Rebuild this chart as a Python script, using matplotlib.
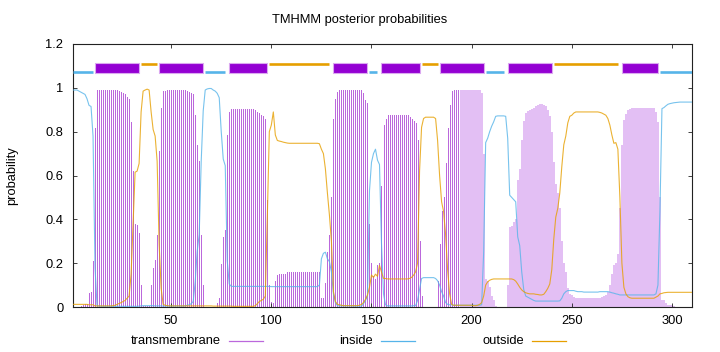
import numpy as np
import matplotlib
matplotlib.use("Agg")
import matplotlib.pyplot as plt
from matplotlib.patches import Rectangle
from matplotlib.lines import Line2D

plt.rcParams["font.family"] = ["Liberation Sans", "DejaVu Sans"]
plt.rcParams["font.size"] = 9.3

# posterior probabilities per residue (1..310)
tm = [
    0, 0, 0, 0, 0.005, 0.01, 0.015, 0.015, 0.065, 0.07,
    0.21, 0.815, 0.99, 0.99, 0.99, 0.99, 0.99, 0.99, 0.99, 0.99,
    0.99, 0.99, 0.99, 0.986, 0.98, 0.975, 0.97, 0.96, 0.95, 0.846,
    0.62, 0.38, 0.373, 0.336, 0.10, 0.005, 0.005, 0.005, 0.005, 0.10,
    0.18, 0.215, 0.33, 0.71, 0.91, 0.985, 0.987, 0.99, 0.99, 0.99,
    0.99, 0.99, 0.99, 0.99, 0.99, 0.99, 0.988, 0.985, 0.982, 0.978,
    0.97, 0.877, 0.74, 0.667, 0.33, 0.1, 0, 0, 0, 0,
    0, 0, 0.02, 0.04, 0.195, 0.32, 0.35, 0.785, 0.89, 0.905,
    0.905, 0.905, 0.905, 0.905, 0.905, 0.905, 0.905, 0.905, 0.905, 0.905,
    0.905, 0.9, 0.89, 0.885, 0.877, 0.87, 0.858, 0.49, 0.1, 0.025,
    0.017, 0.12, 0.146, 0.149, 0.149, 0.15, 0.152, 0.16, 0.16, 0.161,
    0.161, 0.161, 0.161, 0.161, 0.161, 0.161, 0.161, 0.161, 0.161, 0.161,
    0.161, 0.161, 0.16, 0.158, 0.04, 0.04, 0.11, 0.25, 0.33, 0.5,
    0.86, 0.95, 0.983, 0.99, 0.99, 0.99, 0.99, 0.99, 0.99, 0.99,
    0.99, 0.99, 0.99, 0.99, 0.99, 0.976, 0.945, 0.93, 0.38, 0.2,
    0.14, 0.128, 0.19, 0.2, 0.55, 0.83, 0.858, 0.874, 0.877, 0.877,
    0.877, 0.877, 0.877, 0.877, 0.877, 0.877, 0.877, 0.877, 0.865, 0.86,
    0.85, 0.84, 0.76, 0.3, 0.05, 0, 0, 0, 0, 0,
    0, 0, 0.12, 0.286, 0.44, 0.5, 0.656, 0.816, 0.92, 0.986,
    0.99, 0.99, 0.99, 0.99, 0.99, 0.99, 0.99, 0.99, 0.99, 0.99,
    0.99, 0.99, 0.99, 0.988, 0.975, 0.7, 0.13, 0.12, 0.09, 0.05,
    0.03, 0.005, 0, 0, 0, 0, 0, 0.1, 0.367, 0.37,
    0.39, 0.4, 0.58, 0.63, 0.76, 0.85, 0.885, 0.895, 0.9, 0.905,
    0.91, 0.915, 0.92, 0.925, 0.925, 0.92, 0.915, 0.9, 0.87, 0.8,
    0.66, 0.56, 0.52, 0.45, 0.3, 0.2, 0.16, 0.085, 0.06, 0.055,
    0.045, 0.04, 0.04, 0.04, 0.04, 0.04, 0.04, 0.04, 0.04, 0.04,
    0.04, 0.04, 0.04, 0.04, 0.045, 0.05, 0.055, 0.07, 0.1, 0.15,
    0.19, 0.2, 0.24, 0.45, 0.74, 0.855, 0.88, 0.9, 0.905, 0.907,
    0.91, 0.91, 0.91, 0.91, 0.91, 0.91, 0.91, 0.91, 0.91, 0.91,
    0.91, 0.89, 0.846, 0.5, 0.03, 0.03, 0.017, 0.01, 0.009, 0.009,
    0.005, 0, 0, 0, 0, 0, 0, 0, 0, 0,
]

inside = [
    0.99, 0.99, 0.99, 0.985, 0.98, 0.975, 0.97, 0.95, 0.92, 0.915,
    0.78, 0.18, 0.005, 0.004, 0.003, 0.003, 0.003, 0.003, 0.003, 0.003,
    0.003, 0.003, 0.003, 0.003, 0.003, 0.003, 0.003, 0.003, 0.003, 0.003,
    0.003, 0.003, 0.003, 0.004, 0.005, 0.006, 0.006, 0.006, 0.006, 0.006,
    0.006, 0.005, 0.005, 0.005, 0.005, 0.004, 0.004, 0.004, 0.004, 0.004,
    0.004, 0.004, 0.004, 0.004, 0.004, 0.004, 0.005, 0.008, 0.01, 0.015,
    0.025, 0.115, 0.255, 0.33, 0.665, 0.895, 0.99, 0.995, 0.997, 0.997,
    0.99, 0.985, 0.975, 0.955, 0.8, 0.675, 0.645, 0.21, 0.105, 0.094,
    0.094, 0.094, 0.094, 0.094, 0.094, 0.094, 0.094, 0.094, 0.094, 0.094,
    0.094, 0.094, 0.094, 0.094, 0.094, 0.094, 0.094, 0.094, 0.094, 0.093,
    0.093, 0.093, 0.093, 0.093, 0.093, 0.093, 0.093, 0.093, 0.093, 0.093,
    0.093, 0.093, 0.093, 0.093, 0.093, 0.093, 0.093, 0.093, 0.093, 0.093,
    0.093, 0.093, 0.093, 0.1, 0.22, 0.245, 0.25, 0.22, 0.207, 0.16,
    0.06, 0.02, 0.006, 0.005, 0.005, 0.005, 0.005, 0.005, 0.005, 0.005,
    0.004, 0.004, 0.004, 0.004, 0.004, 0.015, 0.03, 0.05, 0.53, 0.66,
    0.7, 0.72, 0.67, 0.65, 0.29, 0.06, 0.01, 0.005, 0.005, 0.005,
    0.005, 0.005, 0.005, 0.005, 0.005, 0.005, 0.005, 0.005, 0.005, 0.005,
    0.006, 0.006, 0.03, 0.08, 0.13, 0.134, 0.134, 0.134, 0.134, 0.134,
    0.134, 0.13, 0.12, 0.1, 0.07, 0.05, 0.02, 0.012, 0.01, 0.01,
    0.008, 0.008, 0.008, 0.008, 0.008, 0.008, 0.008, 0.008, 0.008, 0.008,
    0.008, 0.008, 0.008, 0.008, 0.01, 0.25, 0.75, 0.77, 0.8, 0.825,
    0.845, 0.87, 0.872, 0.872, 0.872, 0.872, 0.87, 0.77, 0.51, 0.5,
    0.49, 0.48, 0.32, 0.28, 0.16, 0.08, 0.05, 0.045, 0.04, 0.035,
    0.03, 0.027, 0.027, 0.027, 0.027, 0.027, 0.027, 0.027, 0.027, 0.027,
    0.027, 0.027, 0.027, 0.028, 0.04, 0.06, 0.07, 0.075, 0.075, 0.075,
    0.075, 0.072, 0.07, 0.07, 0.07, 0.068, 0.068, 0.068, 0.068, 0.068,
    0.068, 0.068, 0.068, 0.07, 0.07, 0.07, 0.07, 0.07, 0.068, 0.065,
    0.063, 0.06, 0.058, 0.055, 0.055, 0.055, 0.055, 0.055, 0.055, 0.055,
    0.055, 0.055, 0.055, 0.055, 0.055, 0.055, 0.055, 0.055, 0.055, 0.055,
    0.055, 0.06, 0.1, 0.44, 0.905, 0.91, 0.918, 0.925, 0.928, 0.93,
    0.932, 0.933, 0.934, 0.935, 0.935, 0.935, 0.935, 0.935, 0.935, 0.935,
]

outside = [
    0.012, 0.012, 0.012, 0.012, 0.012, 0.012, 0.012, 0.012, 0.01, 0.01,
    0.01, 0.005, 0.005, 0.005, 0.005, 0.005, 0.005, 0.005, 0.005, 0.005,
    0.006, 0.008, 0.012, 0.016, 0.02, 0.025, 0.03, 0.04, 0.05, 0.15,
    0.38, 0.615, 0.62, 0.655, 0.89, 0.985, 0.99, 0.994, 0.99, 0.89,
    0.81, 0.78, 0.665, 0.285, 0.085, 0.012, 0.008, 0.006, 0.005, 0.005,
    0.005, 0.005, 0.005, 0.005, 0.005, 0.005, 0.005, 0.005, 0.005, 0.005,
    0.005, 0.005, 0.005, 0.005, 0.005, 0.005, 0.005, 0.005, 0.005, 0.005,
    0.004, 0.004, 0.004, 0.004, 0.004, 0.004, 0.004, 0.004, 0.004, 0.004,
    0.003, 0.003, 0.003, 0.003, 0.003, 0.003, 0.003, 0.003, 0.003, 0.003,
    0.003, 0.006, 0.015, 0.025, 0.03, 0.035, 0.05, 0.41, 0.8, 0.83,
    0.89, 0.785, 0.76, 0.757, 0.755, 0.752, 0.75, 0.748, 0.747, 0.747,
    0.747, 0.747, 0.747, 0.747, 0.747, 0.747, 0.747, 0.747, 0.747, 0.747,
    0.747, 0.747, 0.747, 0.745, 0.72, 0.7, 0.63, 0.52, 0.42, 0.3,
    0.07, 0.025, 0.012, 0.01, 0.008, 0.006, 0.006, 0.006, 0.006, 0.006,
    0.006, 0.006, 0.006, 0.008, 0.012, 0.02, 0.035, 0.055, 0.09, 0.146,
    0.135, 0.15, 0.14, 0.19, 0.16, 0.13, 0.13, 0.128, 0.128, 0.128,
    0.128, 0.128, 0.128, 0.128, 0.128, 0.128, 0.128, 0.128, 0.13, 0.135,
    0.145, 0.16, 0.2, 0.62, 0.82, 0.86, 0.866, 0.866, 0.866, 0.866,
    0.866, 0.86, 0.76, 0.6, 0.48, 0.435, 0.33, 0.17, 0.06, 0.012,
    0.008, 0.008, 0.008, 0.008, 0.008, 0.008, 0.008, 0.008, 0.008, 0.008,
    0.006, 0.006, 0.008, 0.012, 0.02, 0.05, 0.1, 0.115, 0.122, 0.126,
    0.128, 0.128, 0.128, 0.128, 0.128, 0.128, 0.128, 0.128, 0.128, 0.128,
    0.125, 0.118, 0.105, 0.09, 0.078, 0.07, 0.065, 0.062, 0.06, 0.06,
    0.06, 0.058, 0.057, 0.055, 0.055, 0.058, 0.07, 0.085, 0.105, 0.17,
    0.31, 0.41, 0.45, 0.52, 0.64, 0.74, 0.78, 0.84, 0.87, 0.875,
    0.885, 0.89, 0.89, 0.89, 0.89, 0.89, 0.89, 0.89, 0.89, 0.89,
    0.89, 0.89, 0.89, 0.888, 0.885, 0.88, 0.875, 0.86, 0.83, 0.785,
    0.747, 0.75, 0.72, 0.5, 0.2, 0.09, 0.06, 0.047, 0.042, 0.04,
    0.04, 0.04, 0.04, 0.04, 0.04, 0.04, 0.04, 0.04, 0.04, 0.04,
    0.04, 0.045, 0.05, 0.06, 0.062, 0.065, 0.066, 0.067, 0.067, 0.067,
    0.067, 0.067, 0.067, 0.067, 0.067, 0.067, 0.067, 0.067, 0.067, 0.067,
]

# predicted topology: (kind, first residue, last residue)
topology = [
    ("in", 1, 11), ("tm", 12, 34), ("out", 35, 43), ("tm", 44, 66),
    ("in", 67, 77), ("tm", 79, 98), ("out", 99, 129), ("tm", 131, 148),
    ("in", 149, 153), ("tm", 155, 174), ("out", 175, 183), ("tm", 184, 206),
    ("in", 207, 216), ("tm", 218, 240), ("out", 241, 273), ("tm", 275, 293),
    ("in", 294, 310),
]

legend_labels = ["transmembrane", "inside", "outside"]

C_TM = "#9400d3"
C_IN = "#56b4e9"
C_OUT = "#e69f00"
C_IMP = "#bb68dc"
C_FILL = "#e3bff4"

W, H = 720, 352
fig = plt.figure(figsize=(W / 100, H / 100), dpi=100)
ax = fig.add_axes([73 / W, 45 / H, 619 / W, 263 / H])

res = np.arange(1, len(tm) + 1)
tm_arr = np.array(tm)

# impulses for the first part, the later part renders as a solid block
split = 194
m = res < split
ax.vlines(res[m], 0, tm_arr[m], color=C_IMP, lw=0.72, antialiased=False, zorder=1)
ax.fill_between(res[~m], 0, tm_arr[~m], step="mid", color=C_FILL, lw=0, zorder=1)

ax.plot(res, inside, color=C_IN, lw=0.8, alpha=0.8, zorder=3)
ax.plot(res, outside, color=C_OUT, lw=0.8, alpha=0.8, zorder=3)

for kind, a, b in topology:
    if kind == "tm":
        ax.add_patch(Rectangle((a, 1.068), b - a, 0.046, facecolor=C_TM,
                               edgecolor="#dba8f0", lw=0.8, zorder=4))
    elif kind == "in":
        ax.hlines(1.071, a, b, color=C_IN, lw=1.9, zorder=4)
    else:
        ax.hlines(1.111, a, b, color=C_OUT, lw=1.9, zorder=4)

ax.set_xlim(1, 310)
ax.set_ylim(0, 1.2)
ax.set_xticks([50, 100, 150, 200, 250, 300])
ax.set_yticks([0, 0.2, 0.4, 0.6, 0.8, 1.0, 1.2])
ax.set_yticklabels(["0", "0.2", "0.4", "0.6", "0.8", "1", "1.2"])
ax.tick_params(direction="in", length=3, width=0.6, top=True, right=True,
               colors="#222222", labelcolor="black")
ax.tick_params(axis="y", pad=7)
ax.tick_params(axis="x", pad=6)
for s in ax.spines.values():
    s.set_linewidth(0.8)
    s.set_color("#222222")

fig.text(0.5, 1 - 20 / H, "TMHMM posterior probabilities", ha="center", va="center")
ax.set_ylabel("probability")
ax.yaxis.set_label_coords(-0.088, 0.5)

# key below the axes: label then sample line, gnuplot style
key = [(legend_labels[0], C_IMP, 229), (legend_labels[1], C_IN, 381),
       (legend_labels[2], C_OUT, 532)]
ky = 1 - 341 / H
for lab, col, x0 in key:
    fig.text((x0 - 8) / W, ky, lab, ha="right", va="center")
    fig.add_artist(Line2D([x0 / W, (x0 + 34) / W], [ky, ky], color=col, lw=0.9,
                          transform=fig.transFigure))

fig.savefig("out.png", dpi=100)
